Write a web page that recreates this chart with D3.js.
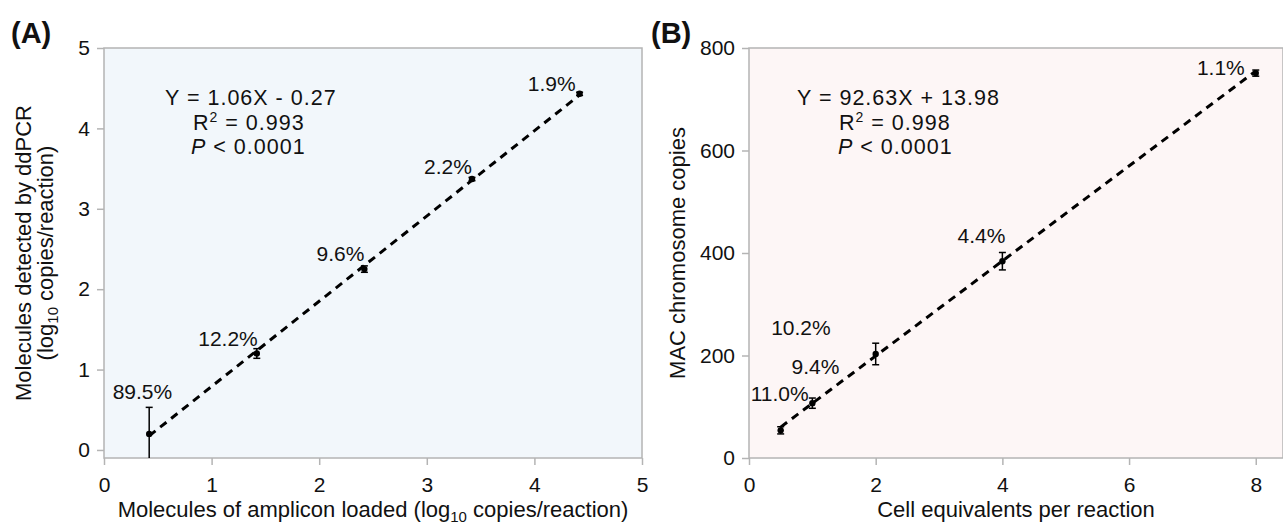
<!DOCTYPE html>
<html>
<head>
<meta charset="utf-8">
<script src="https://cdn.jsdelivr.net/npm/d3@7"></script>
<style>
  body { margin: 0; background: #fff; }
  svg { display: block; font-family: "Liberation Sans", Arial, sans-serif; }
</style>
</head>
<body>
<svg id="chart" width="1283" height="528"></svg>
<script>
// panel A : log10 loaded vs detected
const aX = [0.42, 1.42, 2.42, 3.42, 4.42];
const aY = [0.2, 1.2, 2.25, 3.37, 4.43];
const aErr = [0.33, 0.06, 0.04, 0.02, 0.02];
const aCv = ["89.5%", "12.2%", "9.6%", "2.2%", "1.9%"];
const aTicksX = [0, 1, 2, 3, 4, 5];
const aTicksY = [0, 1, 2, 3, 4, 5];
const aFit = [1.06, -0.27];
const aStats = ["Y = 1.06X - 0.27", "0.993", "< 0.0001"];

// panel B : cell equivalents vs MAC copies
const bX = [0.5, 1, 2, 4, 8];
const bY = [54, 107, 203, 384, 751];
const bErr = [7, 10, 21, 17, 6];
const bCv = ["11.0%", "9.4%", "10.2%", "4.4%", "1.1%"];
const bTicksX = [0, 2, 4, 6, 8];
const bTicksY = [0, 200, 400, 600, 800];
const bFit = [92.63, 13.98];
const bStats = ["Y = 92.63X + 13.98", "0.998", "< 0.0001"];

const svg = d3.select("#chart");
const FS = 21;      // ticks, point labels
const TFS = 22;     // axis titles
const EFS = 21.5;   // regression text

function drawPanel(p) {
  const x = d3.scaleLinear().domain(p.xDomain).range(p.xRange);
  const y = d3.scaleLinear().domain(p.yDomain).range([458, 48]);
  const g = svg.append("g");

  const clipId = "clip" + p.tag;
  g.append("clipPath").attr("id", clipId)
    .append("rect")
    .attr("x", p.xRange[0]).attr("y", 48)
    .attr("width", p.xRange[1] - p.xRange[0]).attr("height", 410);

  // background + frame
  g.append("rect")
    .attr("x", p.xRange[0]).attr("y", 48)
    .attr("width", p.xRange[1] - p.xRange[0]).attr("height", 410)
    .attr("fill", p.bg).attr("stroke", "#b4b4b4").attr("stroke-width", 1.5);

  const xAxis = g.append("g")
    .attr("transform", "translate(0,458)")
    .call(d3.axisBottom(x).tickValues(p.ticksX).tickSize(7).tickPadding(12).tickFormat(d3.format("d")));
  const yAxis = g.append("g")
    .attr("transform", `translate(${p.xRange[0]},0)`)
    .call(d3.axisLeft(y).tickValues(p.ticksY).tickSize(7).tickPadding(7).tickFormat(d3.format("d")));

  [xAxis, yAxis].forEach(a => {
    a.select(".domain").remove();
    a.selectAll(".tick line").attr("stroke", "#b4b4b4").attr("stroke-width", 1.5);
    a.selectAll(".tick text").attr("fill", "#111").style("font-size", FS + "px")
      .style("font-family", "'Liberation Sans', Arial, sans-serif");
  });

  const plot = g.append("g").attr("clip-path", `url(#${clipId})`);

  // fitted line
  const x0 = d3.min(p.xs), x1 = d3.max(p.xs);
  plot.append("line")
    .attr("x1", x(x0)).attr("y1", y(p.fit[0] * x0 + p.fit[1]))
    .attr("x2", x(x1)).attr("y2", y(p.fit[0] * x1 + p.fit[1]))
    .attr("stroke", "#000").attr("stroke-width", 3)
    .attr("stroke-dasharray", "8,6");

  const pts = p.xs.map((v, i) => ({ x: v, y: p.ys[i], e: p.errs[i], cv: p.cv[i], off: p.labelOff[i] }));

  // error bars
  const eb = plot.selectAll(".eb").data(pts).join("g").attr("class", "eb")
    .attr("stroke", "#000").attr("stroke-width", 1.5);
  eb.append("line")
    .attr("x1", d => x(d.x)).attr("x2", d => x(d.x))
    .attr("y1", d => y(d.y - d.e)).attr("y2", d => y(d.y + d.e));
  eb.append("line")
    .attr("x1", d => x(d.x) - 3.5).attr("x2", d => x(d.x) + 3.5)
    .attr("y1", d => y(d.y + d.e)).attr("y2", d => y(d.y + d.e));
  eb.append("line")
    .attr("x1", d => x(d.x) - 3.5).attr("x2", d => x(d.x) + 3.5)
    .attr("y1", d => y(d.y - d.e)).attr("y2", d => y(d.y - d.e));

  plot.selectAll(".pt").data(pts).join("circle").attr("class", "pt")
    .attr("cx", d => x(d.x)).attr("cy", d => y(d.y)).attr("r", 3.2).attr("fill", "#000");

  g.selectAll(".cv").data(pts).join("text").attr("class", "cv")
    .attr("x", d => x(d.x) + d.off[0]).attr("y", d => y(d.y) + d.off[1])
    .attr("text-anchor", "end").style("font-size", FS + "px").attr("fill", "#111")
    .text(d => d.cv);

  // regression stats
  const st = g.append("g").style("font-size", EFS + "px").style("letter-spacing", "1px").attr("fill", "#111");
  st.append("text").attr("x", p.statX[0]).attr("y", 105).text(p.stats[0]);
  const r2 = st.append("text").attr("x", p.statX[1]).attr("y", 129.5);
  r2.append("tspan").text("R");
  r2.append("tspan").attr("dy", -8).style("font-size", "14px").text("2");
  r2.append("tspan").attr("dy", 8).text(" = " + p.stats[1]);
  const pv = st.append("text").attr("x", p.statX[2]).attr("y", 154);
  pv.append("tspan").style("font-style", "italic").text("P");
  pv.append("tspan").text(" " + p.stats[2]);

  // panel letter
  g.append("text").attr("x", p.letterX).attr("y", 43)
    .style("font-size", "29px").style("font-weight", "bold").attr("fill", "#111")
    .text(p.letter);

  // axis titles
  const xt = g.append("text")
    .attr("x", (p.xRange[0] + p.xRange[1]) / 2).attr("y", 517)
    .attr("text-anchor", "middle").style("font-size", TFS + "px").attr("fill", "#111");
  p.xTitle(xt);

  p.yTitle(g);
}

function sub10(t, before, after) {
  t.append("tspan").text(before);
  t.append("tspan").attr("dy", 5).style("font-size", "15px").text("10");
  t.append("tspan").attr("dy", -5).text(after);
}

drawPanel({
  tag: "A", letter: "(A)", letterX: 11,
  xs: aX, ys: aY, errs: aErr, cv: aCv, fit: aFit, stats: aStats,
  xDomain: [0, 5], xRange: [104, 642], yDomain: [-0.1, 5],
  ticksX: aTicksX, ticksY: aTicksY, bg: "#f2f7fb",
  statX: [165, 193, 191],
  labelOff: [[23, -35], [1, -7], [0, -8], [0, -5], [-4, -3]],
  xTitle: t => sub10(t, "Molecules of amplicon loaded (log", " copies/reaction)"),
  yTitle: g => {
    g.append("text").attr("transform", "translate(31,253) rotate(-90)")
      .attr("text-anchor", "middle").style("font-size", TFS + "px").attr("fill", "#111")
      .text("Molecules detected by ddPCR");
    const t2 = g.append("text").attr("transform", "translate(53,253) rotate(-90)")
      .attr("text-anchor", "middle").style("font-size", TFS + "px").attr("fill", "#111");
    sub10(t2, "(log", " copies/reaction)");
  }
});

drawPanel({
  tag: "B", letter: "(B)", letterX: 651,
  xs: bX, ys: bY, errs: bErr, cv: bCv, fit: bFit, stats: bStats,
  xDomain: [0, 8.43], xRange: [749, 1283], yDomain: [0, 800],
  ticksX: bTicksX, ticksY: bTicksY, bg: "#fdf6f6",
  statX: [797, 839, 838],
  labelOff: [[28, -29], [27, -29], [-45, -19], [3, -18], [-11, 2]],
  xTitle: t => t.text("Cell equivalents per reaction"),
  yTitle: g => {
    g.append("text").attr("transform", "translate(685,253) rotate(-90)")
      .attr("text-anchor", "middle").style("font-size", TFS + "px").attr("fill", "#111")
      .text("MAC chromosome copies");
  }
});
</script>
</body>
</html>
